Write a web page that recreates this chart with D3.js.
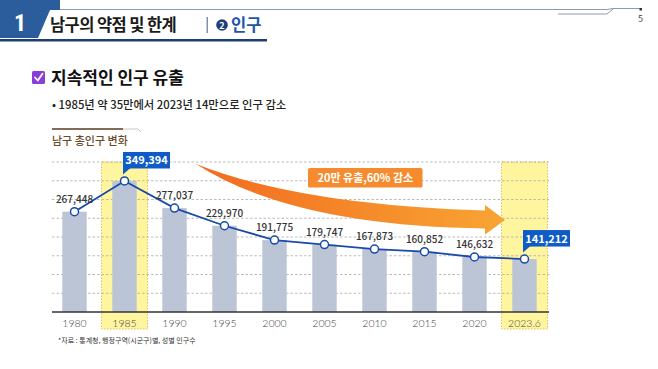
<!DOCTYPE html>
<html><head><meta charset="utf-8">
<script src="https://cdn.jsdelivr.net/npm/d3@7"></script>
<style>
html,body{margin:0;padding:0;background:#fff;}
svg{display:block;font-family:"Noto Sans CJK KR","Noto Sans",sans-serif;}
</style></head>
<body>
<svg id="c" width="658" height="369"></svg>
<script>
const categories = ["1980","1985","1990","1995","2000","2005","2010","2015","2020","2023.6"];
const population = [267448,349394,277037,229970,191775,179747,167873,160852,146632,141212];
const highlighted = ["1985","2023.6"];
const gridValues = [50000,100000,150000,200000,250000,300000,350000,400000];
const pageTitle = "남구의 약점 및 한계";
const sectionTitle = "인구";
const heading = "지속적인 인구 유출";
const bulletText = "• 1985년 약 35만에서 2023년 14만으로 인구 감소";
const chartTitle = "남구 총인구 변화";
const arrowLabel = "20만 유출,60% 감소";
const sourceNote = "*자료 : 통계청, 행정구역(시군구)별, 성별 인구수";

const svg = d3.select("#c");
const fmt = d3.format(",");

// ---------- header ----------
svg.append("path").attr("d","M0,0 H60 V10 H50 L38,38 H0 Z").attr("fill","#2b5c9c");
svg.append("rect").attr("x",0).attr("y",39).attr("width",267).attr("height",2.5).attr("fill","#1e3f73");
svg.append("text").attr("x",20).attr("y",31).attr("text-anchor","middle")
  .attr("font-family","'Liberation Sans Narrow','Roboto Condensed','DejaVu Sans Condensed',sans-serif")
  .attr("font-size",24).attr("font-weight",700).attr("fill","#fff").text("1");
svg.append("path").attr("d","M60,9.5 H607 L613,8.5 H641").attr("fill","none").attr("stroke","#8a9bb4").attr("stroke-width",1);
svg.append("path").attr("d","M558,14 H607 L613,9").attr("fill","none").attr("stroke","#8a9bb4").attr("stroke-width",1);
svg.append("rect").attr("x",639.5).attr("y",8).attr("width",2.5).attr("height",2.5).attr("fill","#333");
svg.append("text").attr("x",640.5).attr("y",22).attr("text-anchor","middle").attr("font-size",9).attr("fill","#444").text("5");

svg.append("text").attr("x",50).attr("y",31).attr("font-size",16.5).attr("font-weight",700).attr("letter-spacing",-0.6).attr("fill","#1b1b1b").text(pageTitle);
svg.append("rect").attr("x",206.5).attr("y",17).attr("width",1.5).attr("height",16).attr("fill","#7f92ad");
svg.append("circle").attr("cx",222).attr("cy",25).attr("r",5.8).attr("fill","#1f3f7a");
svg.append("text").attr("x",222).attr("y",28.6).attr("text-anchor","middle").attr("font-size",9).attr("font-weight",700).attr("fill","#fff").text("2");
svg.append("text").attr("x",231).attr("y",31).attr("font-size",16.5).attr("font-weight",700).attr("fill","#1f55a8").text(sectionTitle);

// heading with checkbox
svg.append("rect").attr("x",32).attr("y",71).attr("width",13).attr("height",13).attr("rx",1.5).attr("fill","#8a3ed8");
svg.append("path").attr("d","M35,77.5 L37.8,80.5 L42.5,73.8").attr("fill","none").attr("stroke","#fff").attr("stroke-width",1.8).attr("stroke-linecap","round").attr("stroke-linejoin","round");
svg.append("text").attr("x",51).attr("y",84).attr("font-size",17).attr("font-weight",700).attr("fill","#111").text(heading);
svg.append("text").attr("x",52).attr("y",108.5).attr("font-size",11.3).attr("font-weight",500).attr("fill","#222").text(bulletText);

// chart title
svg.append("line").attr("x1",52).attr("x2",123).attr("y1",129).attr("y2",129).attr("stroke","#5a3a1e").attr("stroke-width",1.5);
svg.append("path").attr("d","M123,129 H138 L141,132").attr("fill","none").attr("stroke","#c8c8c8").attr("stroke-width",1);
svg.append("text").attr("x",52).attr("y",145).attr("font-size",11).attr("font-weight",500).attr("fill","#6b4a2b").text(chartTitle);

// ---------- chart ----------
const x = d3.scaleBand().domain(categories).range([49.5,549.5]).padding(0);
const y = d3.scaleLinear().domain([0,400000]).range([312,162]);
const bw = x.bandwidth();
const cx = d => x(d) + bw/2;

// highlight bands
svg.append("g").selectAll("rect").data(highlighted).join("rect")
  .attr("x", d => cx(d) - 23).attr("y", y(400000)).attr("width",46).attr("height", 329 - y(400000))
  .attr("fill","#fff59e").attr("stroke","#e3c15a").attr("stroke-width",1).attr("stroke-dasharray","1.5,1.5");

// grid lines
svg.append("g").selectAll("line").data(gridValues).join("line")
  .attr("x1",52).attr("x2",549).attr("y1",d=>y(d)).attr("y2",d=>y(d))
  .attr("stroke","#a9a9a9").attr("stroke-width",0.8).attr("stroke-dasharray","2.5,2");

// bars
svg.append("g").selectAll("rect").data(population).join("rect")
  .attr("x",(d,i)=>cx(categories[i]) - 12.2).attr("width",24.4)
  .attr("y",d=>y(d)).attr("height",d=>312 - y(d)).attr("fill","#bcc5d5");

// baseline
svg.append("line").attr("x1",52).attr("x2",549).attr("y1",312).attr("y2",312).attr("stroke","#333").attr("stroke-width",1.6);

// x axis labels
const ax = svg.append("g").attr("transform","translate(0,313)")
  .call(d3.axisBottom(x).tickSize(0).tickPadding(7));
ax.select(".domain").remove();
ax.selectAll("text").attr("font-family","Lato,'Open Sans',sans-serif").attr("font-weight",300)
  .attr("font-size",10.5).attr("fill","#444");

// orange arrow
const defs = svg.append("defs");
const grad = defs.append("linearGradient").attr("id","ag").attr("x1","0%").attr("x2","100%");
grad.append("stop").attr("offset","0%").attr("stop-color","#f26a1f");
grad.append("stop").attr("offset","100%").attr("stop-color","#f8a533");
svg.append("path")
  .attr("d","M196,164 Q300,205 485,210.5 L485,205 L505,220 L485,234.5 L485,228.5 Q292,226 196,164 Z")
  .attr("fill","url(#ag)");

svg.append("rect").attr("x",308).attr("y",168).attr("width",114.5).attr("height",19.5).attr("rx",1.5).attr("fill","#f58b2e");
svg.append("text").attr("x",365.3).attr("y",182).attr("text-anchor","middle").attr("font-size",11).attr("font-weight",700).attr("fill","#fff").text(arrowLabel);

// line
const pts = population.map((v,i)=>[cx(categories[i]), y(v)]);
svg.append("path").attr("d", d3.line().curve(d3.curveLinear)(pts))
  .attr("fill","none").attr("stroke","#1a4aa8").attr("stroke-width",1.8);
svg.append("g").selectAll("circle").data(pts).join("circle")
  .attr("cx",d=>d[0]).attr("cy",d=>d[1]).attr("r",4)
  .attr("fill","#fff").attr("stroke","#1a4aa8").attr("stroke-width",1.5);

// value labels
svg.append("g").selectAll("text").data(population.map((v,i)=>({v,c:categories[i]})).filter(d=>!highlighted.includes(d.c)))
  .join("text").attr("x",d=>cx(d.c)).attr("y",d=>y(d.v)-9).attr("text-anchor","middle")
  .attr("font-size",10).attr("font-weight",500).attr("fill","#333").text(d=>fmt(d.v));

// callouts
const callouts = population.map((v,i)=>({v,c:categories[i]})).filter(d=>highlighted.includes(d.c));
callouts.forEach(d=>{
  const px = cx(d.c) - 1.5, py = y(d.v);
  const g = svg.append("g");
  const top = py - 29, h = 16.5, w = 47;
  g.append("rect").attr("x",px).attr("y",top).attr("width",w).attr("height",h).attr("fill","#0f5cc6");
  g.append("path").attr("d",`M${px},${top+h-1} L${px+8},${top+h-1} L${px},${top+h+6} Z`).attr("fill","#0f5cc6");
  g.append("text").attr("x",px+w/2).attr("y",top+12.5).attr("text-anchor","middle")
    .attr("font-size",11).attr("font-weight",700).attr("fill","#fff").text(fmt(d.v));
});

// source
svg.append("text").attr("x",58).attr("y",343).attr("font-size",7).attr("fill","#333").text(sourceNote);
</script>
</body></html>
